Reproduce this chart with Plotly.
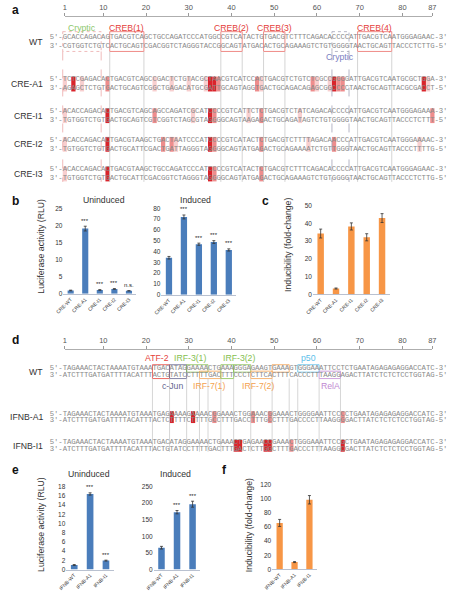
import plotly.graph_objects as go

W, H = 452, 599

# ---------------- data: panel a (CRE promoter variants) ----------------
ruler_ticks = [1, 10, 20, 30, 40, 50, 60, 70, 80, 87]

cre_rows = ["WT", "CRE-A1", "CRE-I1", "CRE-I2", "CRE-I3"]
cre_seqs = [
    "GCACCAGACA" "GTGACGTCAG" "CTGCCAGATC" "CCATGGCCGT" "CATACTGTGA" "CGTCTTTCAG" "ACACCCCATT" "GACGTCAATG" "GGAGAAC",
    "TCTCGAGACA" "CTGACGTCAG" "CCGACTCTGT" "ACGCTAACGT" "CATCCACTGA" "CGTCTGTCTC" "GCCGGGGATT" "GACGTCAATG" "CGCTGGA",
    "ACACCAGACA" "CTGACGTCAG" "CAGCCAGATC" "GCATCCCCGT" "CATTCTCTGA" "CGTCTATCAG" "ACACCCCATT" "GACGTCAATG" "GGAGAAA",
    "ACACCAGACA" "CTGACGTAAG" "CTGACTAATC" "CCATCCCCGT" "CATACTCTGA" "CGTCTTTTAG" "ACAACCCATT" "GACGTCAATG" "GGAAAAC",
    "ACACCAGACA" "CTGACGTAAG" "CTGCCAGATC" "CCATCCCCGT" "CATACTCTGA" "CGTCTTTCAG" "ACACCCCATT" "GACGTCAATG" "GGAGAAC",
]
cre_mark_pos = [[], [1, 3, 5, 11, 22, 26, 30, 34, 35, 36, 37, 46, 47, 59, 60, 63, 64, 65, 66, 85, 86],
                [1, 11, 22, 31, 35, 36, 44, 47, 56, 87],
                [1, 11, 24, 26, 27, 35, 36, 47, 58, 64, 84],
                [1, 11, 35, 36, 47]]
cre_mark_lvl = [[], [1, 3, 1, 2, 1, 1, 1, 1, 3, 3, 2, 2, 1, 2, 1, 1, 3, 2, 2, 3, 1],
                [1, 3, 2, 1, 3, 2, 1, 2, 1, 2],
                [1, 3, 2, 2, 1, 3, 2, 2, 1, 2, 1],
                [1, 3, 3, 2, 2]]
creb_names = ["CREB(1)", "CREB(2)", "CREB(3)", "CREB(4)"]
creb_start = [11.5, 37.5, 47.5, 69.5]
creb_end = [19.5, 42.5, 52.5, 77.5]
cryptic_start = [0.5, 63.5]
cryptic_end = [9.5, 67.5]

# ---------------- data: panel d (IFNB enhancer variants) ----------------
ifnb_rows = ["WT", "IFNB-A1", "IFNB-I1"]
ifnb_seqs = [
    "TAGAAACTAC" "TAAAATGTAA" "ATGACATAGG" "AAAACTGAAA" "GGGAGAAGTG" "AAAGTGGGAA" "ATTCCTCTGA" "ATAGAGAGAG" "GACCATC",
    "TAGAAACTAC" "TAAAATGTAA" "ATGAGAAAAG" "AAAACGGAAA" "CTGGAAACGG" "AAACTGGGGA" "ATTCCCCTGA" "ATAGAGAGAG" "GACCATC",
    "TAGAAACTAC" "TAAAATGTAA" "ATGACATAGG" "AAAACTGAAA" "CTGAGAACCG" "AAACTGGGAA" "ATTCCGCTGA" "ATAGAGAGAG" "GACCATC",
]
ifnb_mark_pos = [[], [26, 31, 36, 45, 49, 66], [41, 42, 48, 49, 54, 66]]
ifnb_mark_lvl = [[], [3, 3, 2, 2, 2, 2], [3, 3, 3, 3, 2, 3]]
ifnb_site_names = ["ATF-2", "c-Jun", "IRF-3(1)", "IRF-7(1)", "IRF-3(2)", "IRF-7(2)", "p50", "RelA"]
ifnb_site_label_bp = [22.5, 26.3, 30.2, 34.7, 41.7, 46.2, 58.1, 63.1]
ifnb_site_side = ["above", "below", "above", "below", "above", "below", "above", "below"]
ifnb_site_boxes = [
    [(21.5, 25.5, "both")],
    [(25.5, 29.5, "both")],
    [(29.5, 34.5, "top")],
    [(32.5, 37.5, "bottom")],
    [(37.5, 40.5, "both"), (40.5, 44.5, "top")],
    [(44.5, 49.5, "bottom"), (49.5, 53.5, "top")],
    [(55.5, 60.5, "top")],
    [(60.5, 65.5, "bottom")],
]
ifnb_site_colors = ["#e5413a", "#66668f", "#86c04f", "#f4a250", "#86c04f", "#f4a250", "#5cc0ea", "#c189d2"]

# ---------------- data: bar charts ----------------
cre_categories = ["CRE-WT", "CRE-A1", "CRE-I1", "CRE-I2", "CRE-I3"]
cre_uninduced = [1.0, 19.2, 1.15, 1.45, 0.9]
cre_uninduced_err = [0.1, 0.7, 0.1, 0.1, 0.05]
cre_uninduced_sig = ["", "***", "***", "***", "n.s."]
cre_induced = [34.3, 72.0, 46.8, 48.8, 41.5]
cre_induced_err = [1.2, 1.8, 1.0, 1.3, 1.0]
cre_induced_sig = ["", "***", "***", "***", "***"]
cre_fold = [34.3, 3.4, 38.3, 32.2, 43.0]
cre_fold_err = [2.5, 0.3, 2.0, 2.0, 2.5]

ifnb_categories = ["IFNB-WT", "IFNB-A1", "IFNB-I1"]
ifnb_uninduced = [1.0, 16.4, 1.95]
ifnb_uninduced_err = [0.1, 0.25, 0.1]
ifnb_uninduced_sig = ["", "***", "***"]
ifnb_induced = [66, 173, 197]
ifnb_induced_err = [4, 5, 9]
ifnb_induced_sig = ["", "***", "***"]
ifnb_fold = [66, 10.3, 99]
ifnb_fold_err = [5, 0.7, 6]

# ---------------- styling / layout helpers ----------------
BLUE = "#4a7dbb"
ORANGE = "#f79646"
SEQ_COLOR = "#8a8a8a"
SHADE = {1: "#f8cfcf", 2: "#ee8d8d", 3: "#d9242b"}
FONT = "Liberation Sans"


def X(px):
    return px / W


def Y(py):
    return 1 - py / H


BP0 = 57.5   # pixel x of base 1
BPW = 4.40   # pixel width of one base
x7_range = [1 - BP0 / BPW, 1 + (W - BP0) / BPW]
COMP = str.maketrans("ACGT", "TGCA")

fig = go.Figure()
shapes = []
annotations = []


def ann(text, xpx, ypx, size=8.7, color="#333333", xanchor="center", bold=False, angle=0):
    annotations.append(dict(
        text=f"<b>{text}</b>" if bold else text, x=X(xpx), y=Y(ypx), xref="paper", yref="paper",
        showarrow=False, xanchor=xanchor, yanchor="middle", textangle=angle,
        font=dict(family=FONT, size=size, color=color)))


def seq_ann(text, bp, ypx, color, size=8.7):
    annotations.append(dict(text=text, x=bp, y=ypx, xref="x7", yref="y7", showarrow=False,
                            xanchor="center", yanchor="middle", font=dict(family=FONT, size=size, color=color)))


def add_strands(seq, yc, off):
    top = "5'-" + seq + "-3'"
    bot = "3'-" + seq.translate(COMP) + "-5'"
    pos = list(range(-2, len(seq) + 4))
    for s, yy in ((top, yc - off), (bot, yc + off)):
        fig.add_trace(go.Scatter(
            x=pos, y=[yy] * len(s), text=list(s), mode="text", textposition="middle center",
            textfont=dict(family="Liberation Mono", size=7.3, color=SEQ_COLOR),
            xaxis="x7", yaxis="y7", hoverinfo="skip", showlegend=False, cliponaxis=False))


def rect(x0, x1, y0, y1, fill=None, line=None, dash="solid", width=0.8):
    shapes.append(dict(type="rect", xref="x7", yref="y7", x0=x0, x1=x1, y0=y0, y1=y1,
                       fillcolor=fill if fill else "rgba(0,0,0,0)",
                       line=dict(color=line if line else "rgba(0,0,0,0)", width=width if line else 0, dash=dash),
                       layer="below"))


def vline(xbp, y0, y1, color, dash="solid"):
    shapes.append(dict(type="line", xref="x7", yref="y7", x0=xbp, x1=xbp, y0=y0, y1=y1,
                       line=dict(color=color, width=0.8, dash=dash), layer="below"))


# ---------------- panel a ----------------
A_Y = [38, 81, 113, 142, 172]
A_OFF = 4.5
for r, (name, seq) in enumerate(zip(cre_rows, cre_seqs)):
    yc = A_Y[r]
    for p, lv in zip(cre_mark_pos[r], cre_mark_lvl[r]):
        rect(p - 0.5, p + 0.5, yc - 7.5, yc + 7.5, fill=SHADE[lv])
    add_strands(seq, yc, A_OFF)
    ann(name, 37, yc, xanchor="right")

for name, s, e in zip(creb_names, creb_start, creb_end):
    rect(s, e, A_Y[0] - 10, A_Y[0] + 10, line="#ec6f68")
    seq_ann(name, (s + e) / 2, 24, "#e4403a")
    for xb in (s, e):
        vline(xb, A_Y[0] + 10, A_Y[-1] + 8, "#c9c9c9")

cryptic_colors = ["#ecaaaa", "#a3a3b8"]
cryptic_label_colors = ["#8cc76c", "#7b80c2"]
cryptic_label_y = [24, 54]
for s, e, lc, tc, ly in zip(cryptic_start, cryptic_end, cryptic_colors, cryptic_label_colors, cryptic_label_y):
    rect(s, e, A_Y[0] - 10, A_Y[0] + 10, line=lc, dash="dot")
    seq_ann("Cryptic", (s + e) / 2, ly, tc)
    for xb in (s, e):
        vline(xb, A_Y[0] + 10, A_Y[-1] + 8, lc, dash="dash")

# ---------------- panel d ----------------
D_Y = [372, 418, 447]
D_OFF = 3.3
for r, (name, seq) in enumerate(zip(ifnb_rows, ifnb_seqs)):
    yc = D_Y[r]
    for p, lv in zip(ifnb_mark_pos[r], ifnb_mark_lvl[r]):
        rect(p - 0.5, p + 0.5, yc - 6, yc + 6, fill=SHADE[lv])
    add_strands(seq, yc, D_OFF)
    ann(name, 37, yc, xanchor="right")

edges = set()
for name, lbp, side, boxes, col in zip(ifnb_site_names, ifnb_site_label_bp, ifnb_site_side,
                                       ifnb_site_boxes, ifnb_site_colors):
    for s, e, strand in boxes:
        y0 = D_Y[0] - 7 if strand in ("top", "both") else D_Y[0] - 0.5
        y1 = D_Y[0] + 7 if strand in ("bottom", "both") else D_Y[0] + 0.5
        rect(s, e, y0, y1, line=col)
        edges.update([s, e])
    seq_ann(name, lbp, 358.5 if side == "above" else 387, col)
for xb in sorted(edges):
    vline(xb, D_Y[0] + 7, D_Y[-1] + 6, "#cccccc")

# rulers (dummy traces so the free axes are drawn)
for xa in ("x8", "x9"):
    fig.add_trace(go.Scatter(x=[ruler_ticks[0], ruler_ticks[-1]], y=[-50, -50], mode="markers",
                             marker=dict(opacity=0), xaxis=xa, yaxis="y7", hoverinfo="skip", showlegend=False))

# ---------------- bar charts ----------------
charts = [
    dict(cats=cre_categories, vals=cre_uninduced, err=cre_uninduced_err, sig=cre_uninduced_sig, color=BLUE,
         xd=(56, 131), yd=(207.3, 293.3), rng=25, dt=5),
    dict(cats=cre_categories, vals=cre_induced, err=cre_induced_err, sig=cre_induced_sig, color=BLUE,
         xd=(157, 234), yd=(206.7, 294.3), rng=80, dt=10),
    dict(cats=cre_categories, vals=cre_fold, err=cre_fold_err, sig=None, color=ORANGE,
         xd=(313, 392), yd=(204, 294), rng=50, dt=10),
    dict(cats=ifnb_categories, vals=ifnb_uninduced, err=ifnb_uninduced_err, sig=ifnb_uninduced_sig, color=BLUE,
         xd=(59, 108), yd=(488.3, 572.3), rng=18, dt=2),
    dict(cats=ifnb_categories, vals=ifnb_induced, err=ifnb_induced_err, sig=ifnb_induced_sig, color=BLUE,
         xd=(149, 197), yd=(488.3, 572.3), rng=250, dt=50),
    dict(cats=ifnb_categories, vals=ifnb_fold, err=ifnb_fold_err, sig=None, color=ORANGE,
         xd=(271, 317), yd=(486.7, 572), rng=120, dt=20),
]

axes = {}
for i, ch in enumerate(charts, start=1):
    sfx = "" if i == 1 else str(i)
    xa, ya = "x" + sfx, "y" + sfx
    fig.add_trace(go.Bar(
        x=ch["cats"], y=ch["vals"], width=0.42,
        error_y=dict(type="data", array=ch["err"], color="#333333", thickness=0.8, width=1.5),
        marker=dict(color=ch["color"], line=dict(width=0)),
        xaxis=xa, yaxis=ya, showlegend=False, hoverinfo="skip"))
    axes["xaxis" + sfx] = dict(domain=[X(ch["xd"][0]), X(ch["xd"][1])], anchor=ya, showline=True,
                               linecolor="#a8b2c4", linewidth=0.8, tickangle=-45, ticks="",
                               tickfont=dict(family=FONT, size=5, color="#333333"),
                               showgrid=False, zeroline=False)
    axes["yaxis" + sfx] = dict(domain=[Y(ch["yd"][1]), Y(ch["yd"][0])], anchor=xa, range=[0, ch["rng"]],
                               dtick=ch["dt"], tick0=0, showline=False, ticks="",
                               tickfont=dict(family=FONT, size=6.5, color="#333333"),
                               showgrid=False, zeroline=False)
    if ch["sig"]:
        for c, v, e, s in zip(ch["cats"], ch["vals"], ch["err"], ch["sig"]):
            if s:
                annotations.append(dict(text=s, x=c, y=v + e, xref=xa, yref=ya, showarrow=False,
                                        yanchor="bottom", yshift=0.5,
                                        font=dict(family=FONT, size=6, color="#222222")))

ruler_axis = dict(domain=[X(BP0), X(BP0 + (ruler_ticks[-1] - 1) * BPW)], range=[ruler_ticks[0], ruler_ticks[-1]],
                  anchor="free", side="top", showline=True, linecolor="#9a9a9a", linewidth=0.8,
                  ticks="outside", ticklen=3, tickcolor="#9a9a9a", tickvals=ruler_ticks,
                  tickfont=dict(family=FONT, size=7.5, color="#555555"), showgrid=False, zeroline=False)
axes["xaxis8"] = dict(ruler_axis, position=Y(12))
axes["xaxis9"] = dict(ruler_axis, position=Y(349))
axes["xaxis7"] = dict(domain=[0, 1], range=x7_range, anchor="y7", visible=False)
axes["yaxis7"] = dict(domain=[0, 1], range=[H, 0], anchor="x7", visible=False)

# ---------------- text: panel letters, titles ----------------
for letter, xp, yp in [("a", 1, 6), ("b", 1, 199), ("c", 258, 199), ("d", 1, 340), ("e", 1, 472), ("f", 217, 472)]:
    ann(letter, xp, yp, size=12, color="#111111", xanchor="left", bold=True)
ann("Uninduced", 97.5, 198)
ann("Induced", 192, 198)
ann("Uninduced", 82.5, 476)
ann("Induced", 171, 476)
ann("Luciferase activity (RLU)", 33, 245.5, angle=-90)
ann("Inducibility (fold-change)", 287, 244, angle=-90)
ann("Luciferase activity (RLU)", 33, 527, angle=-90)
ann("Inducibility (fold-change)", 246.5, 527, angle=-90)

fig.update_layout(width=W, height=H, autosize=False, margin=dict(l=0, r=0, t=0, b=0),
                  paper_bgcolor="white", plot_bgcolor="rgba(0,0,0,0)",
                  font=dict(family=FONT), showlegend=False, bargap=0.5, hovermode=False,
                  shapes=shapes, annotations=annotations, **axes)

fig.write_html("out.html", config={"displayModeBar": False, "staticPlot": True},
               post_script="document.body.style.margin='0';")
